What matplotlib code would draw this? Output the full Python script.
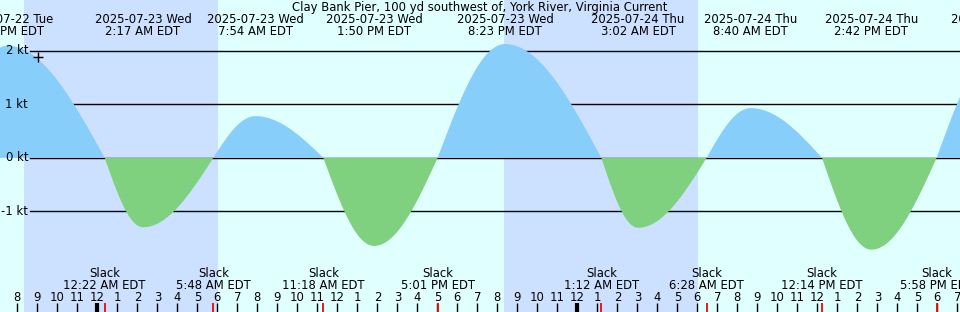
import numpy as np
import pandas as pd
import matplotlib
matplotlib.use("Agg")
import matplotlib.pyplot as plt
import matplotlib.transforms as mtransforms

# data
title = "Clay Bank Pier, 100 yd southwest of, York River, Virginia Current"

max_times = ["2025-07-22 19:30", "2025-07-23 02:17", "2025-07-23 07:54",
             "2025-07-23 13:50", "2025-07-23 20:23", "2025-07-24 03:02",
             "2025-07-24 08:40", "2025-07-24 14:42", "2025-07-24 21:00"]
max_speeds = [2.10, -1.30, 0.78, -1.65, 2.13, -1.31, 0.93, -1.72, 2.00]

slack_times = ["2025-07-22 16:30", "2025-07-23 00:22", "2025-07-23 05:48",
               "2025-07-23 11:18", "2025-07-23 17:01", "2025-07-24 01:12",
               "2025-07-24 06:28", "2025-07-24 12:14", "2025-07-24 17:58"]

night_start = ["2025-07-22 20:20", "2025-07-23 20:20"]
night_end = ["2025-07-23 06:02", "2025-07-24 06:02"]

now_time = "2025-07-22 21:02"
now_speed = 1.89

grid_levels = [2, 1, 0, -1]

t0 = pd.Timestamp("2025-07-22 20:00")
x_left = pd.Timestamp("2025-07-22 19:08")
x_right = pd.Timestamp("2025-07-24 19:08")


def hrs(s):
    return (pd.Timestamp(s) - t0) / pd.Timedelta(hours=1)


def ylab(t):
    return pd.Timestamp(t).strftime("%Y-%m-%d %a")


def tlab(t):
    return pd.Timestamp(t).strftime("%I:%M %p EDT").lstrip("0")


# curve built from the events: quarter-sine between slack and max
ev = sorted([(hrs(t), v) for t, v in zip(max_times, max_speeds)] +
            [(hrs(t), 0.0) for t in slack_times])
xs, ys = [], []
for (ta, va), (tb, vb) in zip(ev[:-1], ev[1:]):
    f = np.linspace(0, 1, 200)
    if va == 0:
        y = vb * np.sin(f * np.pi / 2)
    else:
        y = va * np.cos(f * np.pi / 2)
    xs.append(ta + f * (tb - ta))
    ys.append(y)
xs = np.concatenate(xs)
ys = np.concatenate(ys)

W, H = 960, 312
fig = plt.figure(figsize=(9.6, 3.12), dpi=100)
fig.patch.set_facecolor("#e0ffff")
ax = fig.add_axes([0, 0, 1, 1])
ax.set_facecolor("#e0ffff")
ax.set_xlim(hrs(x_left), hrs(x_right))
zero_px, kt_px = 157.8, 53.4
ax.set_ylim((zero_px - H) / kt_px, zero_px / kt_px)
ax.axis("off")

fs = 8.4
plt.rcParams["font.family"] = "DejaVu Sans"

for a, b in zip(night_start, night_end):
    ax.axvspan(hrs(a), hrs(b), color="#cce0ff", lw=0, zorder=0)

ylev = mtransforms.blended_transform_factory(ax.transAxes, ax.transData)
for g in grid_levels:
    ax.axhline(g, xmin=30 / W, xmax=1, color="black", lw=1, zorder=1)
    ax.text(28 / W, g, "%d kt" % g, transform=ylev, ha="right", va="center",
            fontsize=fs, zorder=3)

ax.fill_between(xs, 0, ys, where=ys >= 0, color="#87cefa", lw=0, zorder=2)
ax.fill_between(xs, 0, ys, where=ys <= 0, color="#7fd07f", lw=0, zorder=2)

ax.plot(hrs(now_time), now_speed, marker="+", color="black", ms=7, mew=1,
        zorder=4)

xax = ax.get_xaxis_transform()


def fy(p):
    return 1 - p / H


ax.text(0.5, fy(7.5), title, transform=ax.transAxes, ha="center",
        va="center", fontsize=fs)

for t in max_times:
    ax.text(hrs(t), fy(19.5), ylab(t), transform=xax, ha="center",
            va="center", fontsize=fs)
    ax.text(hrs(t), fy(31.5), tlab(t), transform=xax, ha="center",
            va="center", fontsize=fs)

for t in slack_times[1:]:
    ax.text(hrs(t), fy(273.5), "Slack", transform=xax, ha="center",
            va="center", fontsize=fs)
    ax.text(hrs(t), fy(285.5), tlab(t), transform=xax, ha="center",
            va="center", fontsize=fs)

for h in range(0, 48):
    clock = (20 + h) % 24
    lab = (clock - 1) % 12 + 1
    ax.text(h, fy(297.5), str(lab), transform=xax, ha="center", va="center",
            fontsize=fs)
    ax.vlines(h, 0, fy(303), transform=xax, color="black",
              lw=3 if clock == 0 else 1, zorder=3)

for t in slack_times[1:]:
    ax.vlines(hrs(t), 0, fy(303), transform=xax, color="red", lw=1.3,
              zorder=4)

fig.savefig("out.png", dpi=100, facecolor=fig.get_facecolor())
